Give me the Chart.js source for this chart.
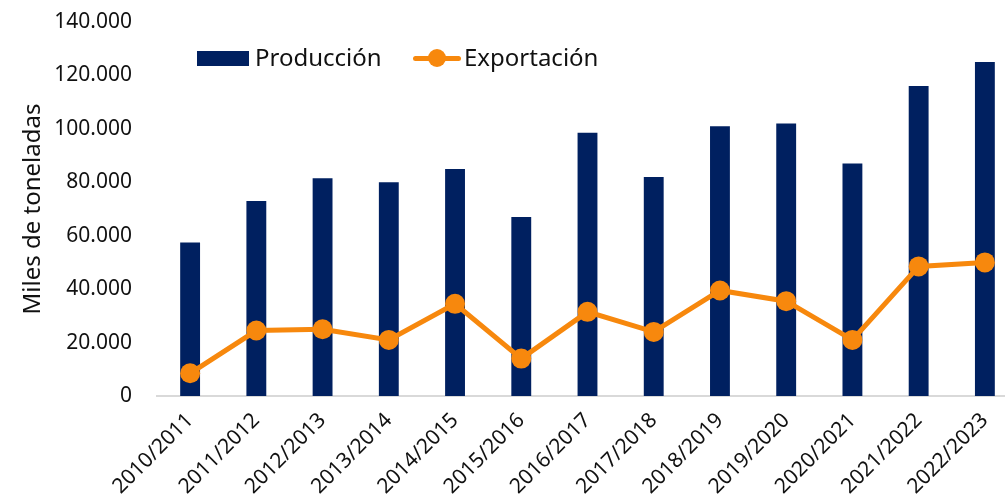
<!DOCTYPE html>
<html>
<head>
<meta charset="utf-8">
<script src="https://cdn.jsdelivr.net/npm/chart.js@4/dist/chart.umd.min.js"></script>
<style>
  html, body { margin: 0; padding: 0; overflow: hidden; background: #fff; }
  #wrap { position: relative; width: 1028px; height: 501px; }
  .legend { position: absolute; top: 42px; font: 24px "Noto Sans", sans-serif; color: #111; line-height: 30px; }
  .box { position: absolute; left: 197px; top: 51px; width: 52px; height: 15px; background: #002060; }
  .lline { position: absolute; left: 413px; top: 56px; width: 48px; height: 5px; border-radius: 3px; background: #F7880D; }
  .ldot { position: absolute; left: 428px; top: 49px; width: 18px; height: 18px; border-radius: 50%; background: #F7880D; }
</style>
</head>
<body>
<div id="wrap">
  <canvas id="myChart" width="1028" height="501"></canvas>
  <div class="box"></div>
  <div class="legend" style="left:255px">Producción</div>
  <div class="lline"></div>
  <div class="ldot"></div>
  <div class="legend" style="left:464px">Exportación</div>
</div>
<script>
const seasons = ['2010/2011', '2011/2012', '2012/2013', '2013/2014', '2014/2015', '2015/2016', '2016/2017',
    '2017/2018', '2018/2019', '2019/2020', '2020/2021', '2021/2022', '2022/2023']

// miles de toneladas
const produccion = [57500, 73000, 81500, 80000, 85000, 67000, 98500, 82000, 101000, 102000, 87000, 116000, 125000]
const exportacion = [8500, 24500, 25000, 21000, 34500, 14000, 31500, 24000, 39500, 35500, 21000, 48500, 50000]

const yTicks = [0, 20000, 40000, 60000, 80000, 100000, 120000, 140000]

const navy = '#002060'
const orange = '#F7880D'
const tickFont = { family: 'Noto Sans', size: 21 }

const ctx = document.getElementById('myChart')
new Chart(ctx, {
    type: 'bar',
    data: {
        labels: seasons,
        datasets: [
            {
                type: 'line',
                label: 'Exportación',
                data: exportacion,
                borderColor: orange,
                backgroundColor: orange,
                borderWidth: 5,
                pointRadius: 10,
                pointBorderWidth: 0,
                pointBackgroundColor: orange,
                tension: 0,
                order: 0
            },
            {
                label: 'Producción',
                data: produccion,
                backgroundColor: navy,
                categoryPercentage: 1,
                barPercentage: 0.3,
                order: 1
            }
        ]
    },
    options: {
        responsive: false,
        animation: false,
        layout: { padding: { top: 22, left: 0, right: 0, bottom: 0 } },
        plugins: {
            legend: { display: false },
            tooltip: { enabled: false }
        },
        scales: {
            x: {
                grid: { display: false },
                border: { display: true, color: '#d9d9d9', width: 2 },
                ticks: {
                    color: '#111',
                    font: tickFont,
                    minRotation: 45,
                    maxRotation: 45,
                    autoSkip: false,
                    padding: 4
                },
                afterFit(scale) {
                    scale.height = 105
                    scale.paddingLeft = 0
                    scale.paddingRight = 0
                }
            },
            y: {
                min: 0,
                max: 140000,
                grid: { display: false },
                border: { display: false },
                afterBuildTicks(scale) { scale.ticks = yTicks.map(v => ({ value: v })) },
                ticks: {
                    color: '#111',
                    font: tickFont,
                    padding: 17,
                    callback: v => v.toLocaleString('de-DE')
                },
                title: {
                    display: true,
                    text: 'Miles de toneladas',
                    color: '#111',
                    font: { family: 'Noto Sans', size: 24 },
                    padding: { top: 19, bottom: 0 }
                },
                afterFit(scale) {
                    scale.width = 157
                    scale.paddingTop = 0
                    scale.paddingBottom = 0
                }
            }
        }
    }
})
</script>
</body>
</html>
